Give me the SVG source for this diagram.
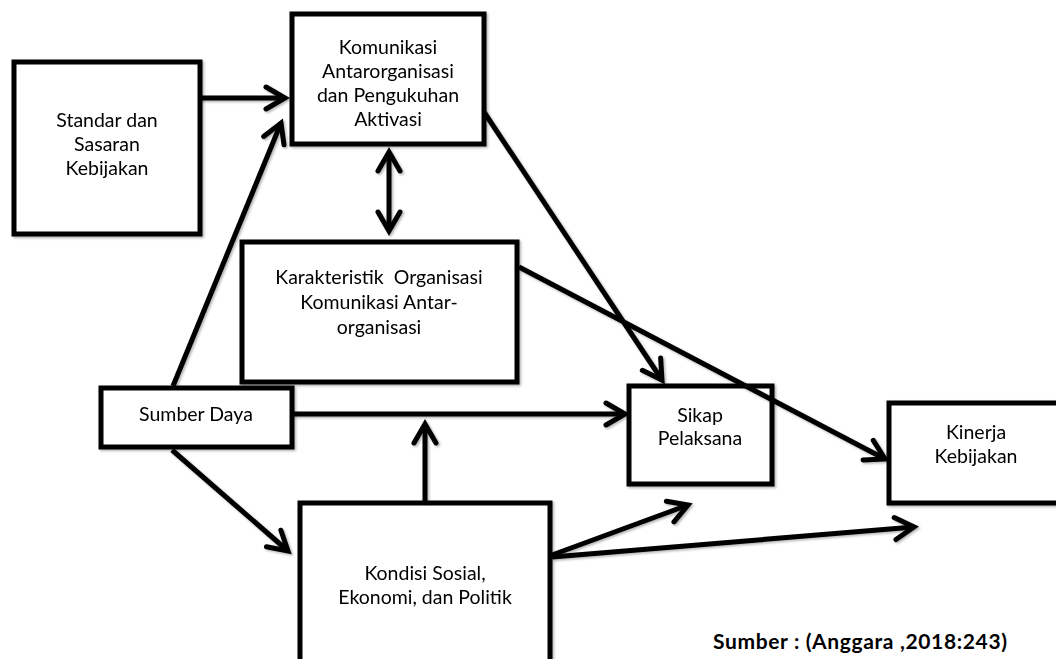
<svg xmlns="http://www.w3.org/2000/svg" width="1056" height="659" viewBox="0 0 1056 659">
  <style>
    .box { fill: #fff; stroke: #000; stroke-width: 5; }
    .lbl { font-family: Lato, "Open Sans", "Liberation Sans", sans-serif; font-size: 19.5px; fill: #000; text-anchor: middle; }
    .src { font-family: Lato, "Open Sans", "Liberation Sans", sans-serif; font-size: 21px; font-weight: bold; fill: #000; }
    .edge { fill: none; stroke: #000; stroke-width: 5; marker-end: url(#arr); }
  </style>
  <defs>
    <filter id="shadow" x="-10%" y="-10%" width="120%" height="120%">
      <feDropShadow dx="1.5" dy="1.5" stdDeviation="1" flood-color="#000" flood-opacity="0.3"/>
    </filter>
    <!-- open chevron arrowhead, fixed size in user units -->
    <marker id="arr" markerUnits="userSpaceOnUse" markerWidth="40" markerHeight="40" refX="0" refY="0" orient="auto-start-reverse" overflow="visible">
      <path d="M-19,-11 L0,0 L-19,11" fill="none" stroke="#000" stroke-width="5" stroke-linecap="round" stroke-linejoin="miter"/>
    </marker>
  </defs>

  <rect width="1056" height="659" fill="#fff"/>

  <g id="standar" filter="url(#shadow)">
    <rect class="box" x="14" y="62" width="186" height="172"/>
    <text class="lbl" x="107" y="127">Standar dan</text>
    <text class="lbl" x="107" y="151">Sasaran</text>
    <text class="lbl" x="107" y="175">Kebijakan</text>
  </g>

  <g id="komunikasi" filter="url(#shadow)">
    <rect class="box" x="292" y="14" width="192" height="130"/>
    <text class="lbl" x="388" y="54">Komunikasi</text>
    <text class="lbl" x="388" y="78">Antarorganisasi</text>
    <text class="lbl" x="388" y="102">dan Pengukuhan</text>
    <text class="lbl" x="388" y="126">Aktivasi</text>
  </g>

  <g id="karakteristik" filter="url(#shadow)">
    <rect class="box" x="242" y="242" width="275" height="140"/>
    <text class="lbl" x="379" y="284" xml:space="preserve">Karakteristik  Organisasi</text>
    <text class="lbl" x="379" y="309">Komunikasi Antar-</text>
    <text class="lbl" x="379" y="334">organisasi</text>
  </g>

  <g id="sumber-daya" filter="url(#shadow)">
    <rect class="box" x="101" y="388" width="191" height="59"/>
    <text class="lbl" x="196" y="421">Sumber Daya</text>
  </g>

  <g id="sikap" filter="url(#shadow)">
    <rect class="box" x="629" y="386" width="143" height="98"/>
    <text class="lbl" x="700" y="422">Sikap</text>
    <text class="lbl" x="700" y="445">Pelaksana</text>
  </g>

  <g id="kinerja" filter="url(#shadow)">
    <rect class="box" x="889" y="403" width="180" height="100"/>
    <text class="lbl" x="976" y="439">Kinerja</text>
    <text class="lbl" x="976" y="463">Kebijakan</text>
  </g>

  <g id="kondisi" filter="url(#shadow)">
    <rect class="box" x="300" y="503" width="250" height="190"/>
    <text class="lbl" x="425" y="580">Kondisi Sosial,</text>
    <text class="lbl" x="425" y="604">Ekonomi, dan Politik</text>
  </g>

  <g id="connectors" filter="url(#shadow)">
    <line class="edge" x1="200" y1="98" x2="285" y2="98"/>
    <line class="edge" x1="173" y1="386" x2="281" y2="123"/>
    <line class="edge" x1="389" y1="152" x2="389" y2="231" style="marker-start: url(#arr)"/>
    <line class="edge" x1="484" y1="112" x2="662" y2="380"/>
    <line class="edge" x1="519" y1="267" x2="885" y2="459"/>
    <line class="edge" x1="292" y1="414" x2="625" y2="414"/>
    <line class="edge" x1="425" y1="503" x2="425" y2="424"/>
    <line class="edge" x1="172" y1="450" x2="288" y2="551"/>
    <line class="edge" x1="552" y1="555" x2="688" y2="505"/>
    <line class="edge" x1="552" y1="557" x2="914" y2="527"/>
  </g>

  <text id="sumber" class="src" x="713" y="649" textLength="294">Sumber : (Anggara ,2018:243)</text>
</svg>
